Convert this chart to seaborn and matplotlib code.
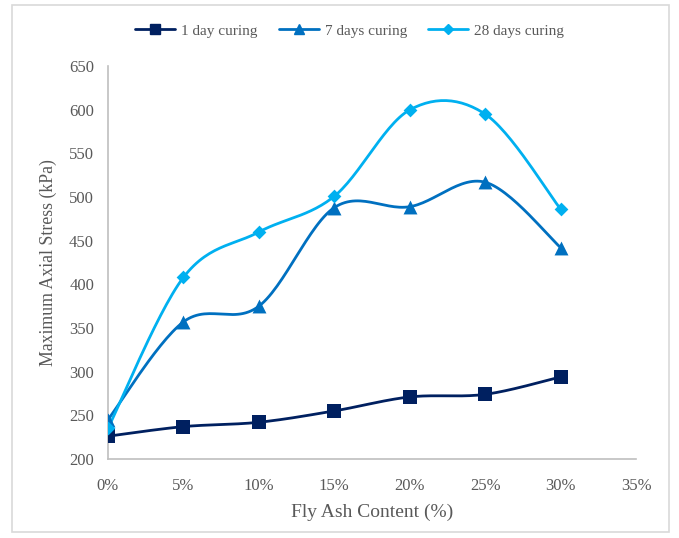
import numpy as np
import pandas as pd
import matplotlib.pyplot as plt
import seaborn as sns
from matplotlib.patches import Rectangle

# Données
fly_ash = [0, 5, 10, 15, 20, 25, 30]
day1 = [226, 237, 242, 255, 271, 274, 294]
day7 = [245, 357, 375, 488, 489, 517, 442]
day28 = [235, 408, 460, 501, 600, 595, 486]
series_names = ['1 day curing', '7 days curing', '28 days curing']
x_ticks = [0, 5, 10, 15, 20, 25, 30, 35]

colors = ['#002060', '#0070C0', '#00B0F0']
markers = ['s', '^', 'D']
msizes = [10, 10, 7]

df = pd.DataFrame({'x': fly_ash * 3,
                   'y': day1 + day7 + day28,
                   'serie': np.repeat(series_names, len(fly_ash))})


def smooth(x, y, n=30):
    # lissage type Excel (Catmull-Rom / Bezier)
    x = np.asarray(x, float)
    y = np.asarray(y, float)
    px = np.concatenate([[x[0]], x, [x[-1]]])
    py = np.concatenate([[y[0]], y, [y[-1]]])
    xs, ys = [], []
    t = np.linspace(0, 1, n)
    for i in range(1, len(px) - 2):
        p0 = np.array([px[i], py[i]])
        p3 = np.array([px[i + 1], py[i + 1]])
        c1 = p0 + (np.array([px[i + 1], py[i + 1]]) - np.array([px[i - 1], py[i - 1]])) / 6
        c2 = p3 - (np.array([px[i + 2], py[i + 2]]) - np.array([px[i], py[i]])) / 6
        b = ((1 - t) ** 3)[:, None] * p0 + (3 * (1 - t) ** 2 * t)[:, None] * c1 \
            + (3 * (1 - t) * t ** 2)[:, None] * c2 + (t ** 3)[:, None] * p3
        xs.extend(b[:, 0])
        ys.extend(b[:, 1])
    return xs, ys


sns.set_style('white')
plt.rcParams['font.family'] = ['Liberation Serif', 'DejaVu Serif']

fig = plt.figure(figsize=(6.79, 5.38), dpi=100)
ax = fig.add_axes([0.159, 0.147, 0.778, 0.730])

for name, c, m, ms in zip(series_names, colors, markers, msizes):
    sub = df[df['serie'] == name]
    xs, ys = smooth(sub['x'], sub['y'])
    ax.plot(xs, ys, color=c, lw=2, zorder=2)
    sns.scatterplot(x=sub['x'], y=sub['y'], marker=m, color=c, s=ms ** 2,
                    edgecolor=c, linewidth=0, ax=ax, zorder=3)
    ax.plot([], [], color=c, lw=2, marker=m, markersize=ms * 0.75, label=name)

ax.set_xlim(0, 35)
ax.set_ylim(200, 650)
ax.set_xticks(x_ticks)
ax.set_xticklabels([f'{v}%' for v in x_ticks])
ax.set_yticks(range(200, 651, 50))
ax.tick_params(length=0, labelsize=12, labelcolor='#595959')
ax.tick_params(axis='x', pad=14)
ax.tick_params(axis='y', pad=10)
ax.set_xlabel('Fly Ash Content (%)', fontsize=14, color='#595959', labelpad=7)
ax.set_ylabel('Maximum Axial Stress (kPa)', fontsize=12.8, color='#595959', labelpad=9)
for s in ['top', 'right']:
    ax.spines[s].set_visible(False)
for s in ['left', 'bottom']:
    ax.spines[s].set_color('#BFBFBF')
    ax.spines[s].set_linewidth(1.2)

ax.legend(loc='center', bbox_to_anchor=(0.515, 0.943), bbox_transform=fig.transFigure,
          ncol=3, frameon=False, fontsize=11, labelcolor='#595959',
          handlelength=2.6, handletextpad=0.4, columnspacing=1.4)

fig.patches.append(Rectangle((0.017, 0.012), 0.968, 0.978, transform=fig.transFigure,
                             fill=False, edgecolor='#D9D9D9', lw=1.2))

plt.savefig('out.png', dpi=100)
